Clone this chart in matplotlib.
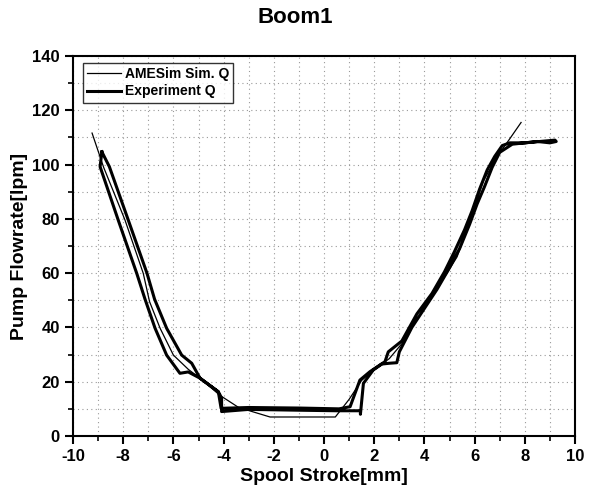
import matplotlib.pyplot as plt
from matplotlib.ticker import MultipleLocator

plt.rcParams['font.family'] = ['Liberation Sans', 'DejaVu Sans']
plt.rcParams['axes.unicode_minus'] = False

# AMESim simulation (thin line)
sim_x = [-9.24, -8.78, -7.93, -7.2, -6.95, -6.53, -6.0, -5.4, -4.9, -4.15, -3.4, -2.15,
         0.45, 1.0, 1.5, 2.0, 2.6, 3.1, 3.7, 4.4, 4.9, 5.3, 5.7, 6.0, 6.35, 6.9, 7.4, 7.85]
sim_q = [111.6, 99.0, 79.6, 59.9, 49.5, 39.7, 29.8, 24.5, 21.0, 15.0, 10.5, 7.0,
         7.0, 13.5, 20.5, 24.5, 28.5, 34.0, 45.0, 53.0, 60.0, 66.0, 76.0, 84.5, 94.0, 103.0, 109.5, 115.5]

# Experiment (thick line, hysteresis loop)
exp_x = [-8.85, -8.92, -8.2, -7.46, -7.13, -6.73, -6.27, -5.74, -5.41, -4.94, -4.21, -4.08, -4.08,
         -3.0, -1.0, 0.5, 1.45, 1.45, 1.57, 1.96, 2.3, 2.6, 2.9, 3.0, 3.5, 4.0,
         4.5, 5.0, 5.4, 5.8, 6.1, 6.4, 6.7, 7.0, 7.5, 8.0, 8.5, 9.0, 9.25,
         9.2, 8.6, 8.0, 7.4, 7.1, 6.8, 6.5, 6.2, 5.9, 5.6, 5.2, 4.8, 4.3, 3.7, 3.1, 2.56, 2.43,
         1.83, 1.43, 1.04, 0.6, -1.0, -3.0, -4.1, -4.21, -4.94, -5.27, -5.67, -6.27, -6.75,
         -7.05, -7.8, -8.55, -8.85]
exp_q = [104.7, 99.2, 79.6, 59.9, 50.4, 39.7, 29.8, 23.1, 23.6, 21.3, 16.3, 14.0, 9.0,
         9.8, 9.5, 9.3, 9.3, 8.0, 19.4, 24.3, 26.5, 26.8, 27.0, 31.0, 40.0, 47.0,
         54.0, 62.0, 69.0, 78.0, 85.5, 92.0, 99.0, 104.5, 107.5, 108.0, 108.5, 108.0, 108.5,
         109.0, 108.5, 108.0, 108.0, 107.0, 103.0, 98.0, 91.0, 83.0, 76.0, 68.0, 60.5, 52.5, 45.0, 35.0, 31.0, 27.4,
         23.7, 20.6, 10.8, 10.0, 10.3, 10.5, 10.2, 16.3, 21.3, 26.8, 29.8, 39.7, 50.4,
         59.9, 79.6, 99.2, 104.7]

fig = plt.figure(figsize=(5.91, 4.95), dpi=100)
ax = fig.add_axes([0.1235, 0.1192, 0.8495, 0.7677])

ax.plot(sim_x, sim_q, color='black', lw=0.9, label='AMESim Sim. Q')
ax.plot(exp_x, exp_q, color='black', lw=2.2, label='Experiment Q')

ax.set_xlim(-10, 10)
ax.set_ylim(0, 140)
ax.xaxis.set_major_locator(MultipleLocator(2))
ax.xaxis.set_minor_locator(MultipleLocator(1))
ax.yaxis.set_major_locator(MultipleLocator(20))
ax.yaxis.set_minor_locator(MultipleLocator(10))
ax.grid(which='both', color='#999999', linestyle=(0, (1, 3)), linewidth=0.8)
ax.tick_params(which='major', direction='out', length=6, width=1.5, labelsize=12)
ax.tick_params(which='minor', direction='out', length=3.5, width=1.2)
for lab in ax.get_xticklabels() + ax.get_yticklabels():
    lab.set_fontweight('bold')
for sp in ax.spines.values():
    sp.set_linewidth(1.5)

ax.set_xlabel('Spool Stroke[mm]', fontsize=14, fontweight='bold', labelpad=3)
ax.set_ylabel('Pump Flowrate[lpm]', fontsize=14, fontweight='bold', labelpad=3)
fig.suptitle('Boom1', fontsize=16, fontweight='bold', y=0.985)

leg = ax.legend(loc='upper left', bbox_to_anchor=(0.02, 0.982), fontsize=10,
                frameon=True, fancybox=False, edgecolor='black', handlelength=2.4,
                borderaxespad=0, labelspacing=0.25, borderpad=0.3, handletextpad=0.3)
leg.get_frame().set_linewidth(1.0)
for t in leg.get_texts():
    t.set_fontweight('bold')

plt.savefig('out.png', dpi=100)
